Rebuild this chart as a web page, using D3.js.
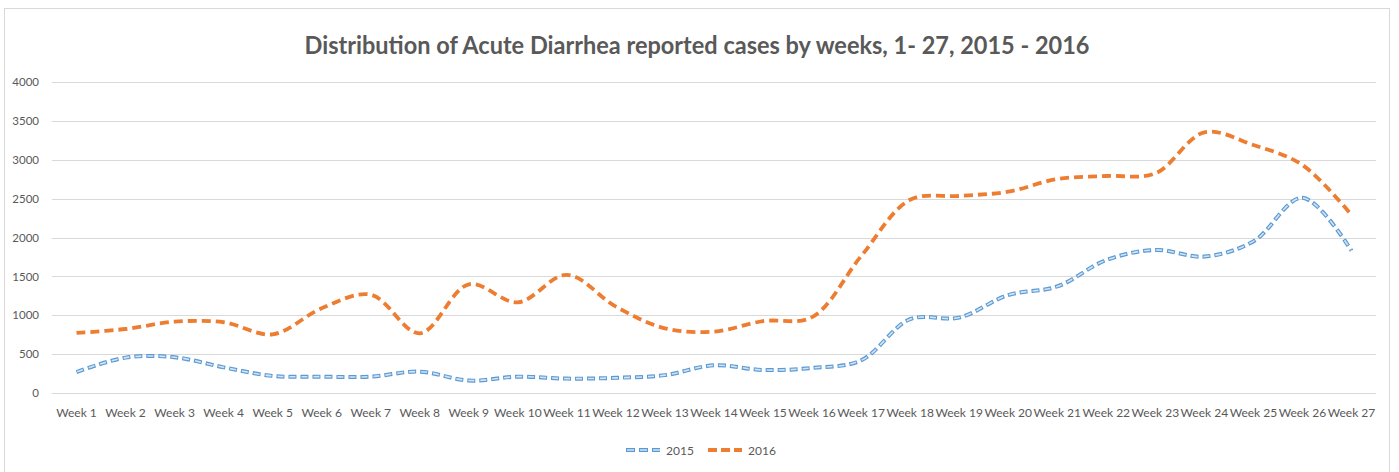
<!DOCTYPE html>
<html>
<head>
<meta charset="utf-8">
<script src="https://cdn.jsdelivr.net/npm/d3@7"></script>
<style>
  html, body { margin: 0; padding: 0; background: #fff; }
  svg { display: block; font-family: Lato, "Open Sans", sans-serif; }
</style>
</head>
<body>
<svg id="chart" width="1399" height="472"></svg>
<script>
const weeks = d3.range(1, 28).map((i) => "Week " + i);

const cases2015 = [270, 455, 460, 330, 220, 210, 210, 275, 160, 210, 185, 195, 230, 356, 296, 322,
  420, 950, 970, 1260, 1370, 1710, 1840, 1755, 1950, 2510, 1830];

const cases2016 = [772, 823, 917, 910, 755, 1090, 1265, 768, 1398, 1166, 1520, 1110, 832, 789, 925, 975,
  1760, 2485, 2534, 2589, 2752, 2791, 2825, 3352, 3190, 2932, 2289];

const yTicks = [0, 500, 1000, 1500, 2000, 2500, 3000, 3500, 4000];

const SERIES = [
  { name: "2015", values: cases2015, color: "#5B9BD5", inner: "#d4e4f4" },
  { name: "2016", values: cases2016, color: "#ED7D31" },
];

const svg = d3.select("#chart");
const width = 1399;
const margin = { left: 52, right: 23, top: 82, bottom: 79 };
const plotW = width - margin.left - margin.right;
const plotH = 472 - margin.top - margin.bottom;

// Outer chart border
svg.append("rect")
  .attr("x", 4.5).attr("y", 8.5)
  .attr("width", 1385).attr("height", 480)
  .attr("fill", "none")
  .attr("stroke", "#d9d9d9")
  .attr("stroke-width", 1);

// Title
svg.append("text")
  .attr("x", 697).attr("y", 54)
  .attr("text-anchor", "middle")
  .attr("fill", "#595959")
  .attr("font-size", 25)
  .attr("font-weight", "bold")
  .attr("textLength", 785)
  .attr("lengthAdjust", "spacingAndGlyphs")
  .text("Distribution of Acute Diarrhea reported cases by weeks, 1- 27, 2015 - 2016");

const g = svg.append("g").attr("transform", `translate(${margin.left},${margin.top})`);

const x = d3.scaleBand().domain(weeks).range([0, plotW]);
const y = d3.scaleLinear().domain([0, 4000]).range([plotH, 0]);

// Gridlines
g.append("g")
  .selectAll("line")
  .data(yTicks)
  .join("line")
  .attr("x1", 0).attr("x2", plotW)
  .attr("y1", (d) => Math.round(y(d)) + 0.5)
  .attr("y2", (d) => Math.round(y(d)) + 0.5)
  .attr("stroke", "#d9d9d9")
  .attr("stroke-width", 1);

// Y axis labels
const yAxis = g.append("g")
  .call(d3.axisLeft(y).tickValues(yTicks).tickFormat(d3.format("d")).tickSize(0).tickPadding(13));
yAxis.select(".domain").remove();
yAxis.selectAll("text")
  .attr("fill", "#595959")
  .attr("font-size", 11.5)
  .attr("font-family", "Lato, sans-serif");

// X axis labels
const xAxis = g.append("g")
  .attr("transform", `translate(0,${plotH})`)
  .call(d3.axisBottom(x).tickSize(0).tickPadding(15));
xAxis.select(".domain").remove();
xAxis.selectAll("text")
  .attr("fill", "#595959")
  .attr("font-size", 12)
  .attr("font-family", "Lato, sans-serif");

const line = d3.line()
  .x((d, i) => x(weeks[i]) + x.bandwidth() / 2)
  .y((d) => y(d))
  .curve(d3.curveCatmullRom.alpha(0.5));

// 2015: double-line dashed style
const s15 = SERIES[0];
g.append("path")
  .datum(s15.values)
  .attr("d", line)
  .attr("fill", "none")
  .attr("stroke", s15.color)
  .attr("stroke-width", 4)
  .attr("stroke-dasharray", "8,4")
  .attr("stroke-linecap", "butt");
g.append("path")
  .datum(s15.values)
  .attr("d", line)
  .attr("fill", "none")
  .attr("stroke", s15.inner)
  .attr("stroke-width", 1.6)
  .attr("stroke-dasharray", "0,1,6,5")
  .attr("stroke-linecap", "butt");

// 2016: thick dashed
const s16 = SERIES[1];
g.append("path")
  .datum(s16.values)
  .attr("d", line)
  .attr("fill", "none")
  .attr("stroke", s16.color)
  .attr("stroke-width", 3.8)
  .attr("stroke-dasharray", "9,5")
  .attr("stroke-linecap", "butt");

// Legend
const legend = svg.append("g").attr("transform", "translate(626,450)");
const legendItems = [
  { s: s15, x: 0 },
  { s: s16, x: 82 },
];
legendItems.forEach(({ s, x: lx }) => {
  const item = legend.append("g").attr("transform", `translate(${lx},0)`);
  item.append("line")
    .attr("x1", 0).attr("x2", 34).attr("y1", 0).attr("y2", 0)
    .attr("stroke", s.color)
    .attr("stroke-width", 4)
    .attr("stroke-dasharray", "9,4");
  if (s.inner) {
    item.append("line")
      .attr("x1", 0).attr("x2", 34).attr("y1", 0).attr("y2", 0)
      .attr("stroke", s.inner)
      .attr("stroke-width", 1.6)
      .attr("stroke-dasharray", "0,1,7,5");
  }
  item.append("text")
    .attr("x", 40).attr("y", 4.5)
    .attr("fill", "#595959")
    .attr("font-size", 12)
    .text(s.name);
});
</script>
</body>
</html>
